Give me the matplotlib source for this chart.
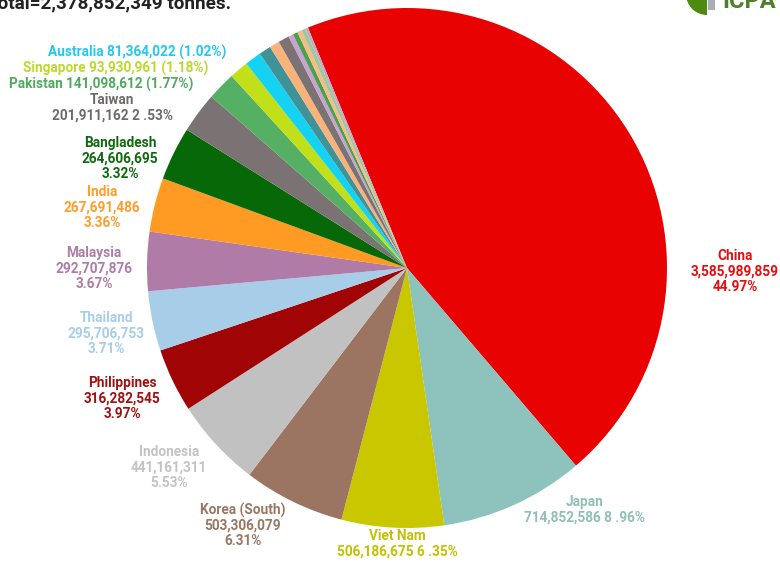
import matplotlib
matplotlib.use("Agg")
import matplotlib.pyplot as plt
from matplotlib.patches import Wedge, Rectangle

plt.rcParams['font.family'] = ['Roboto', 'DejaVu Sans']

# Countries in clockwise order, starting with China
countries = ["China", "Japan", "Viet Nam", "Korea (South)", "Indonesia", "Philippines",
             "Thailand", "Malaysia", "India", "Bangladesh", "Taiwan", "Pakistan",
             "Singapore", "Australia",
             "", "", "", "", "", "", "", ""]
tonnes = [3585989859, 714852586, 506186675, 503306079, 441161311, 316282545,
          295706753, 292707876, 267691486, 264606695, 201911162, 141098612,
          93930961, 81364022,
          60000000, 50000000, 54000000, 24000000, 24000000, 22000000, 20000000, 14000000]
shares = ["44.97%", "8 .96%", "6 .35%", "6.31%", "5.53%", "3.97%", "3.71%", "3.67%",
          "3.36%", "3.32%", "2 .53%", "1.77%", "1.18%", "1.02%"]
colors = ["#e80202", "#8ec3bd", "#c9c800", "#9c7562", "#c1c1c1", "#a00404",
          "#a8cde9", "#b07ca7", "#ff9a22", "#066806", "#7b7273", "#55b063",
          "#c1e01a", "#16d2f2",
          "#3f9298", "#f8b27a", "#7b7273", "#c8a2d2", "#4aa04c", "#f8ba86",
          "#9acb98", "#c4aac8"]
label_colors = ["#e80c0c", "#90bfba", "#c4c000", "#9a7763", "#c3c3c3", "#a01010",
                "#a8cde9", "#ad7ca8", "#ff9c2a", "#0c6a0c", "#6e6a6a", "#4faa5e",
                "#bcd82a", "#22c8f2"]
title = "Total=2,378,852,349 tonnes."

W, H = 780, 565
fig = plt.figure(figsize=(W / 100, H / 100), dpi=100)
ax = fig.add_axes([0, 0, 1, 1])

cx, cy, r = 407, 268, 260
ax.pie(tonnes, colors=colors, startangle=112.4, counterclock=False,
       center=(cx, -cy), radius=r, wedgeprops=dict(linewidth=0), frame=True)
# pie draws in y-up coordinates; flip it into the pixel frame
for p in ax.patches:
    if isinstance(p, Wedge):
        p.set_center((cx, cy))
        t1, t2 = p.theta1, p.theta2
        p.set_theta1(-t2)
        p.set_theta2(-t1)
ax.set_xlim(0, W)
ax.set_ylim(H, 0)
ax.set_aspect('equal')
ax.axis('off')

fs = 9.8
kw = dict(fontsize=fs, fontweight='bold', ha='center', va='center')

def fmt(v):
    return f"{v:,}"

# one-line labels at the upper left
ax.text(137, 52, f"{countries[13]} {fmt(tonnes[13])} ({shares[13]})", color=label_colors[13], **kw)
ax.text(116, 68, f"{countries[12]} {fmt(tonnes[12])} ({shares[12]})", color=label_colors[12], **kw)
ax.text(101, 84, f"{countries[11]} {fmt(tonnes[11])} ({shares[11]})", color=label_colors[11], **kw)
ax.text(112, 100, countries[10], color=label_colors[10], **kw)
ax.text(112, 116, f"{fmt(tonnes[10])} {shares[10]}", color=label_colors[10], **kw)

# stacked three-line labels
stacked = {
    9: (120, 143), 8: (102, 192), 7: (94, 253), 6: (106, 318), 5: (122, 383),
    4: (169, 452), 3: (243, 510), 0: (735, 256),
}
for i, (x, y) in stacked.items():
    ax.text(x, y, countries[i], color=label_colors[i], **kw)
    ax.text(x, y + 15.5, fmt(tonnes[i]), color=label_colors[i], **kw)
    ax.text(x, y + 31, shares[i], color=label_colors[i], **kw)

# two-line labels at the bottom
for i, (x, y) in {2: (397, 536), 1: (585, 502)}.items():
    ax.text(x, y, countries[i], color=label_colors[i], **kw)
    ax.text(x, y + 15.5, f"{fmt(tonnes[i])} {shares[i]}", color=label_colors[i], **kw)

# heading
ax.text(-14, 3, title, fontsize=13.6, fontweight='bold', color='#222222', ha='left', va='center')

# ICPA mark
ax.add_patch(Wedge((707, -6), 21, 90, 180, facecolor='#4e8a12', linewidth=0))
ax.add_patch(Rectangle((708, -2), 7, 12, facecolor='#a9aeb2', linewidth=0))
ax.text(722, 2, "ICPA", fontsize=17, fontweight='bold', color='#4f7f2a', ha='left', va='center')

fig.savefig("out.png", dpi=100, facecolor='white')
